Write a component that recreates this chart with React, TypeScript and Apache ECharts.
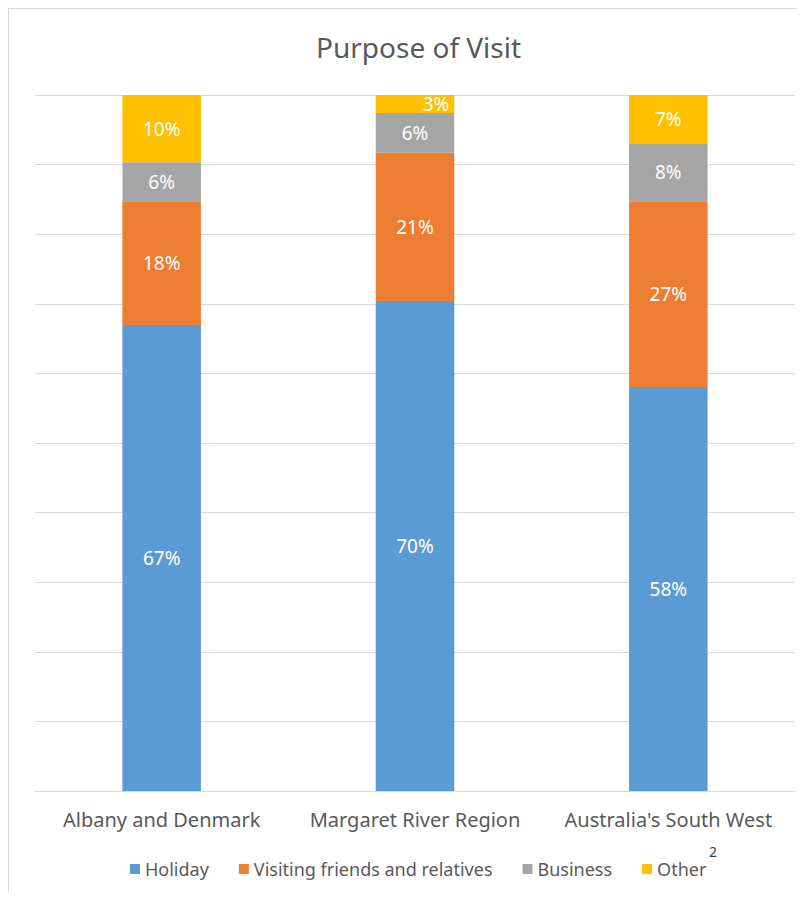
import React, { useEffect, useRef } from "react";
import * as echarts from "echarts";

const categories = ["Albany and Denmark", "Margaret River Region", "Australia's South West"];
const seriesNames = ["Holiday", "Visiting friends and relatives", "Business", "Other"];
const holiday = [66.95, 70.4, 58.05];
const visiting = [17.8, 21.3, 26.7];
const business = [5.6, 5.7, 8.3];
const other = [9.65, 2.6, 6.95];
const colors = ["#5B9BD5", "#ED7D31", "#A5A5A5", "#FFC000"];

const FONT = "'Noto Sans', 'Open Sans', sans-serif";

export default function App() {
  const ref = useRef<HTMLDivElement>(null);
  useEffect(() => {
    if (!ref.current) return;
    const chart = echarts.init(ref.current, null, { renderer: "svg" });
    const all = [holiday, visiting, business, other];
    const series = all.map((vals, si) => ({
      name: seriesNames[si],
      type: "bar",
      stack: "total",
      barWidth: "31%",
      itemStyle: { color: colors[si] },
      label: {
        show: true,
        position: "inside",
        color: "#ffffff",
        fontSize: 19,
        fontFamily: FONT,
        formatter: (p: any) => Math.round(p.value) + "%",
      },
      data: vals.map((v, ci) =>
        si === 3 && v < 4
          ? { value: v, label: { offset: [21, 0] } }
          : { value: v }
      ),
    }));
    chart.setOption({
      animation: false,
      textStyle: { fontFamily: FONT },
      title: {
        text: "Purpose of Visit",
        left: 302,
        top: 19,
        textStyle: { fontSize: 28, fontWeight: "normal", color: "#595959", fontFamily: FONT },
      },
      grid: { left: 26, right: 10, top: 86, bottom: 102 },
      legend: {
        left: 116,
        top: 846,
        itemWidth: 10,
        itemHeight: 10,
        itemGap: 30,
        icon: "rect",
        textStyle: { fontSize: 18, color: "#595959", fontFamily: FONT },
        data: seriesNames,
      },
      xAxis: {
        type: "category",
        data: categories,
        axisLine: { lineStyle: { color: "#d9d9d9" } },
        axisTick: { show: false },
        axisLabel: { interval: 0, hideOverlap: false, fontSize: 20, color: "#595959", margin: 18, fontFamily: FONT },
      },
      yAxis: {
        type: "value",
        min: 0,
        max: 100,
        interval: 10,
        axisLabel: { show: false },
        axisLine: { show: false },
        axisTick: { show: false },
        splitLine: { lineStyle: { color: "#d9d9d9" } },
      },
      graphic: [
        {
          type: "text",
          left: 700,
          top: 835,
          style: { text: "2", fontSize: 14, fill: "#404040", fontFamily: FONT },
        },
      ],
      series,
    });
    return () => chart.dispose();
  }, []);
  return (
    <div
      style={{
        width: 796,
        height: 884,
        borderLeft: "1px solid #d9d9d9",
        borderTop: "1px solid #d9d9d9",
        overflow: "hidden",
      }}
    >
      <div ref={ref} style={{ width: 796, height: 884 }} />
    </div>
  );
}
